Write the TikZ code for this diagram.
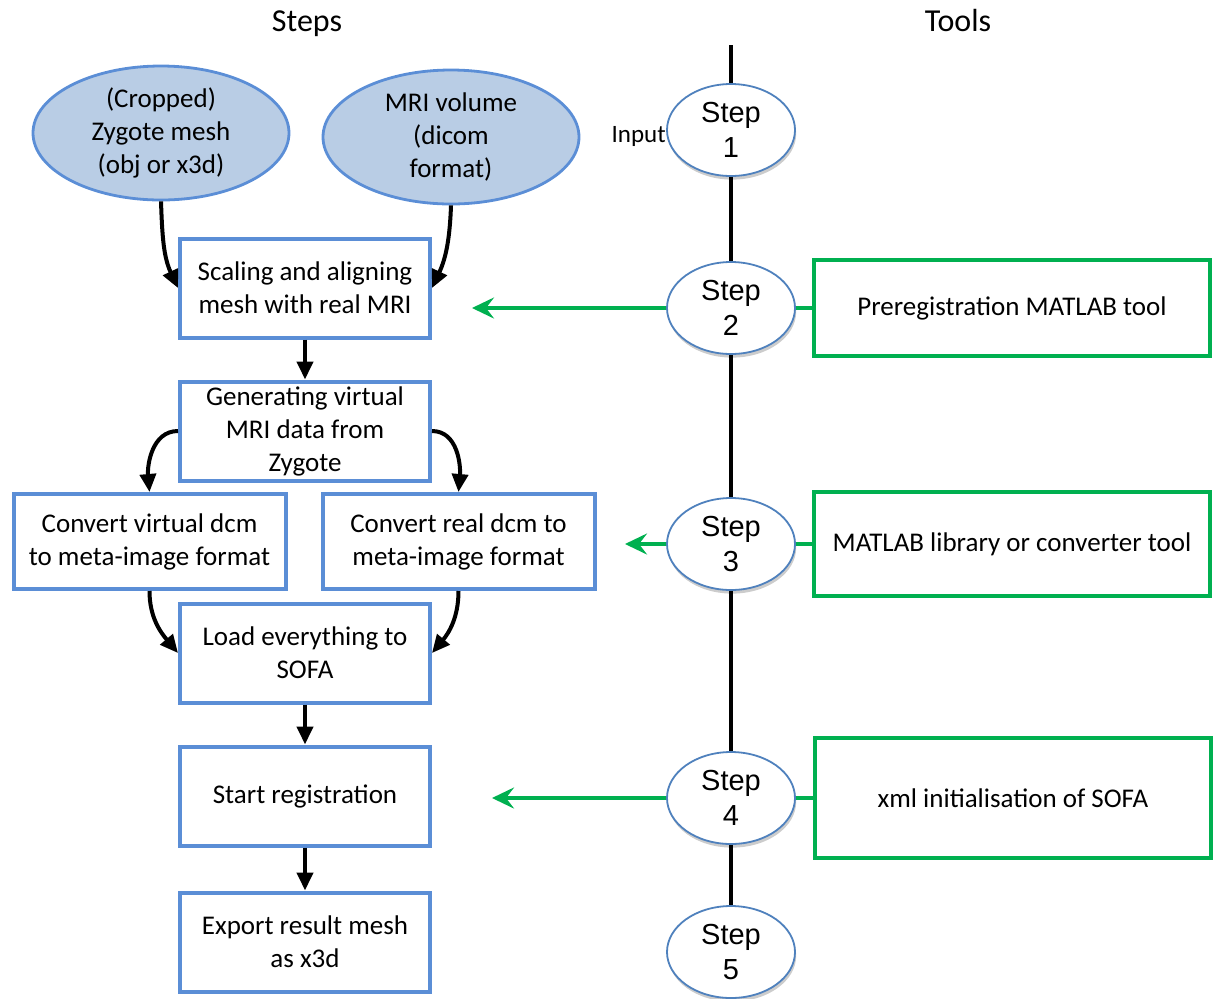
\documentclass[tikz,border=0pt]{standalone}
\usepackage{fontspec}
\setmainfont{Carlito}
\newfontfamily\stepfont{Liberation Sans}
\usetikzlibrary{shapes.geometric,arrows.meta,shadows}
\definecolor{boxblue}{RGB}{91,142,214}
\definecolor{fillblue}{RGB}{185,205,229}
\definecolor{stepblue}{RGB}{79,129,189}
\definecolor{toolgreen}{RGB}{0,176,80}

\begin{document}
\begin{tikzpicture}[x=0.5pt,y=-0.5pt,
  txt/.style={font=\fontsize{13.5}{16.5}\selectfont},
  title/.style={font=\fontsize{16}{19}\selectfont,anchor=base},
  inblob/.style={ellipse,draw=boxblue,fill=fillblue,line width=1.4pt,txt,
    inner sep=0pt,inner ysep=-2pt,minimum width=128pt,minimum height=67pt,align=center},
  stepbox/.style={draw=boxblue,line width=2pt,txt,inner sep=1pt,
    minimum width=125pt,minimum height=49.5pt,align=center},
  widebox/.style={stepbox,minimum width=136pt,minimum height=47.5pt},
  stepdot/.style={ellipse,draw=stepblue,fill=white,line width=0.9pt,
    font=\stepfont\fontsize{14.5}{17.5}\selectfont,align=center,
    inner sep=0pt,inner ysep=-2pt,minimum width=64pt,minimum height=46pt,
    drop shadow={shadow xshift=0.6pt,shadow yshift=-1.8pt,opacity=0.4}},
  toolbox/.style={draw=toolgreen,line width=2pt,txt,minimum width=198pt,align=center},
  flow/.style={line width=2pt,-{Triangle[length=9pt,width=8pt]}},
  link/.style={toolgreen,line width=2pt},
  back/.style={link,-{Stealth[length=11pt,width=10.5pt,inset=4pt]}}
]
\useasboundingbox (0,0) rectangle (1216,998);

% column titles
\node[title] (steps) at (307,31) {Steps};
\node[title] (tools) at (958,31) {Tools};

% inputs
\node[inblob] (mesh) at (161,133) {(Cropped)\\Zygote mesh\\(obj or x3d)};
\node[inblob] (mri) at (451,137) {MRI volume\\(dicom\\format)};

% pipeline
\node[stepbox] (scale) at (305,288) {Scaling and aligning\\mesh with real MRI};
\node[stepbox] (gen) at (305,431) {Generating virtual\\MRI data from\\Zygote};
\node[widebox] (cvirt) at (149.5,541.5) {Convert virtual dcm\\to meta-image format};
\node[widebox] (creal) at (458.5,541.5) {Convert real dcm to\\meta-image format};
\node[stepbox] (load) at (305,653) {Load everything to\\SOFA};
\node[stepbox] (reg) at (305,796) {Start registration};
\node[stepbox] (export) at (305,942) {Export result mesh\\as x3d};

\draw[flow] (mesh.south) to[out=-88,in=115] (scale.west);
\draw[flow] (mri.south) to[out=-92,in=65] (scale.east);
\draw[flow] (scale) -- (gen);
\draw[flow] (gen.west) to[out=180,in=95] (cvirt.north);
\draw[flow] (gen.east) to[out=0,in=85] (creal.north);
\draw[flow] (cvirt.south) to[out=-90,in=130] (load.west);
\draw[flow] (creal.south) to[out=-90,in=50] (load.east);
\draw[flow] (load) -- (reg);
\draw[flow] (reg) -- (export);

% time line
\coordinate (top) at (731,45);
\node[stepdot] (s1) at (731,130) {Step\\1};
\node[stepdot] (s2) at (731,308) {Step\\2};
\node[stepdot] (s3) at (731,544) {Step\\3};
\node[stepdot] (s4) at (731,798) {Step\\4};
\node[stepdot] (s5) at (731,952) {Step\\5};
\node[anchor=east,inner sep=0pt,font=\fontsize{12.5}{15}\selectfont] (input)
  at ([yshift=-3pt]s1.west) {Input};

\draw[line width=2pt] (top) -- (s1.north);
\draw[line width=2pt] (s1.south) -- (s2.north);
\draw[line width=2pt] (s2.south) -- (s3.north);
\draw[line width=2pt] (s3.south) -- (s4.north);
\draw[line width=2pt] (s4.south) -- (s5.north);

% tools
\node[toolbox,minimum height=48pt] (t2) at (1012,308) {Preregistration MATLAB tool};
\node[toolbox,minimum height=52pt] (t3) at (1012,544) {MATLAB library or converter tool};
\node[toolbox,minimum height=60pt] (t4) at (1013,798) {xml initialisation of SOFA};

\coordinate (a2) at (472,308);
\coordinate (a3) at (625,544);
\coordinate (a4) at (492,798);
\draw[link] (s2.east) -- (t2.west);
\draw[link] (s3.east) -- (t3.west);
\draw[link] (s4.east) -- (t4.west);
\draw[back] (s2.west) -- (a2);
\draw[back] (s3.west) -- (a3);
\draw[back] (s4.west) -- (a4);
\end{tikzpicture}
\end{document}
